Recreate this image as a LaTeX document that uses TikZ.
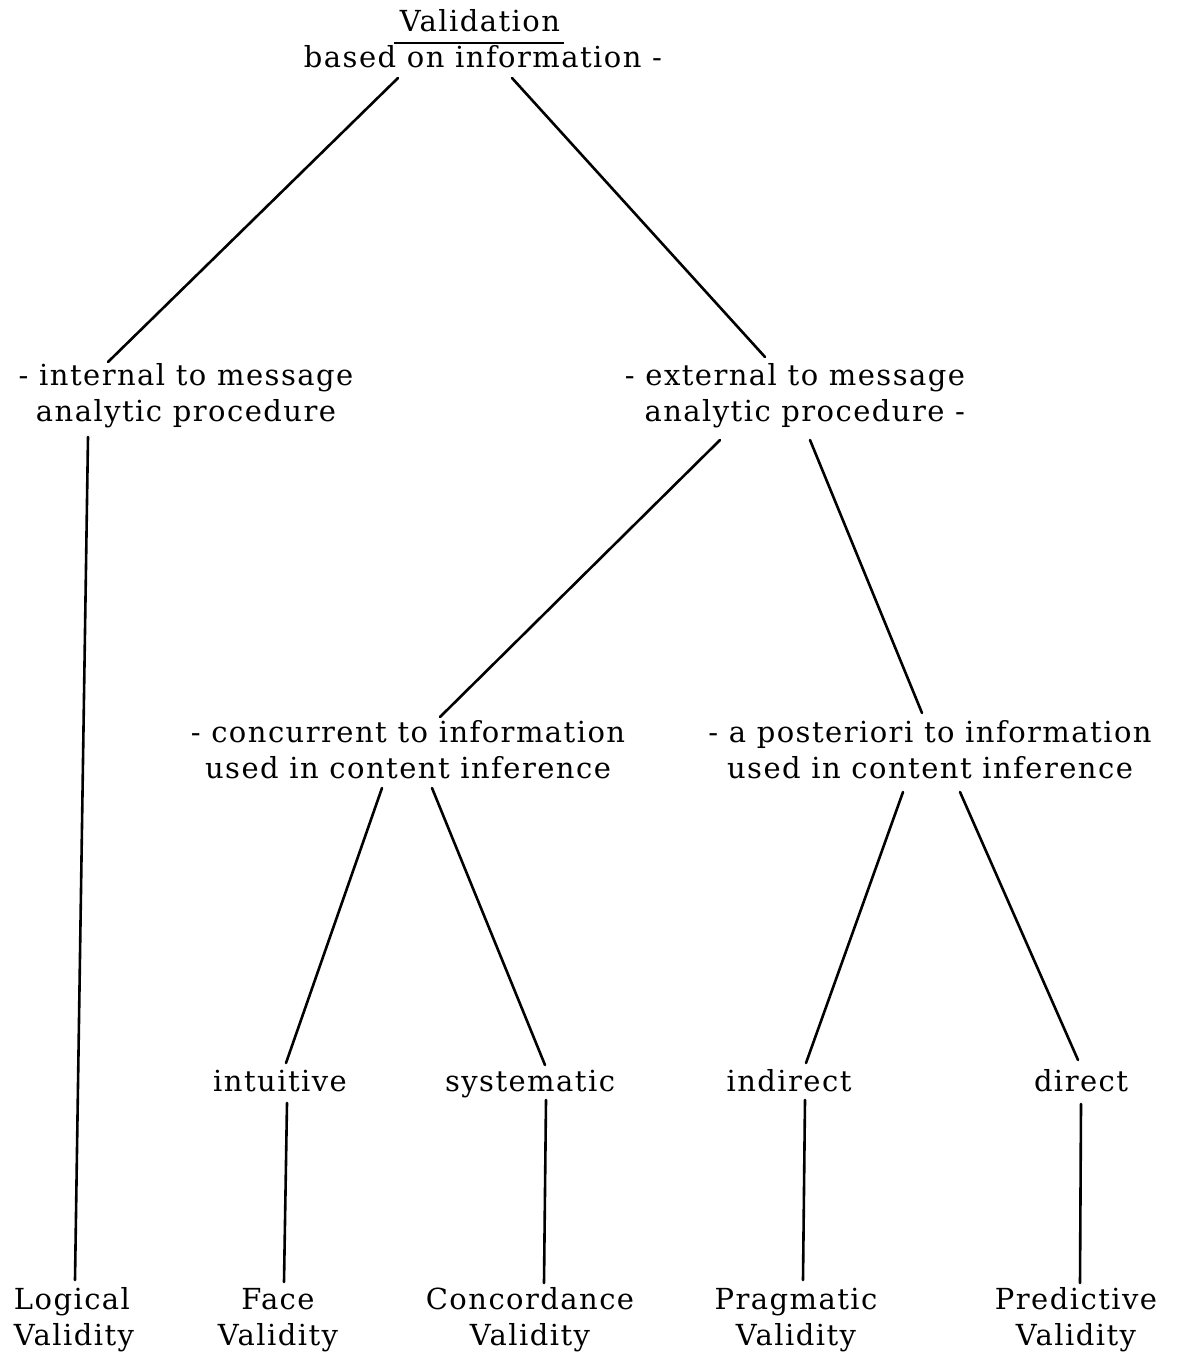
\documentclass[tikz,border=0pt]{standalone}
\usepackage{fontspec}
\setmainfont[LetterSpace=5]{DejaVu Serif}
\usetikzlibrary{calc}
\begin{document}
\begin{tikzpicture}[x=1pt,y=-1pt,
  lbl/.style={inner sep=0pt,align=center,font=\fontsize{29}{36}\selectfont},
  word/.style={lbl,text height=24pt,text depth=4pt},
  edge/.style={line width=2.6pt,line cap=round}]
\useasboundingbox (0,0) rectangle (1176,1356);
\fill[white] (0,0) rectangle (1176,1356);

% root
\node[word] (title) at (480,22) {Validation};
\node[word] (sub) at (483,58) {based on information -};
\draw[line width=2.2pt] ($(title.base west)+(-6,11)$) -- ($(title.base east)+(4,11)$);

% second level
\node[lbl] (int) at (186,396) {- internal to message\\analytic procedure};
\node[lbl,align=right] (ext) at (795,396) {- external to message\\analytic procedure -};

% third level
\node[lbl] (conc) at (408,750) {- concurrent to information\\used in content inference};
\node[lbl] (post) at (930,750) {- a posteriori to information\\used in content inference};

% fourth level
\node[word] (intu) at (280,1081) {intuitive};
\node[word] (syst) at (530,1081) {systematic};
\node[word] (indi) at (789,1081) {indirect};
\node[word] (dire) at (1081,1081) {direct};

% leaves
\node[lbl,align=left] (logi) at (74,1320) {Logical\\Validity};
\node[lbl] (face) at (278,1320) {Face\\Validity};
\node[lbl] (conv) at (530,1320) {Concordance\\Validity};
\node[lbl] (prag) at (796,1320) {Pragmatic\\Validity};
\node[lbl] (pred) at (1076,1320) {Predictive\\Validity};

% connectors
\draw[edge] ($(sub.center)+(-85,20)$) -- ($(int.center)+(-78,-34)$);
\draw[edge] ($(sub.center)+(29,20)$) -- ($(ext.center)+(-30,-39)$);
\draw[edge] ($(int.center)+(-98,41)$) -- ($(logi.center)+(1,-40)$);
\draw[edge] ($(ext.center)+(-75,44)$) -- ($(conc.center)+(32,-33)$);
\draw[edge] ($(ext.center)+(15,44)$) -- ($(post.center)+(-8,-37)$);
\draw[edge] ($(conc.center)+(-26,38)$) -- ($(intu.center)+(6,-18)$);
\draw[edge] ($(conc.center)+(24,38)$) -- ($(syst.center)+(15,-16)$);
\draw[edge] ($(post.center)+(-27,42)$) -- ($(indi.center)+(17,-18)$);
\draw[edge] ($(post.center)+(30,42)$) -- ($(dire.center)+(-3,-21)$);
\draw[edge] ($(intu.center)+(7,22)$) -- ($(face.center)+(6,-38)$);
\draw[edge] ($(syst.center)+(16,19)$) -- ($(conv.center)+(14,-37)$);
\draw[edge] ($(indi.center)+(16,19)$) -- ($(prag.center)+(7,-40)$);
\draw[edge] ($(dire.center)+(0,23)$) -- ($(pred.center)+(4,-37)$);
\end{tikzpicture}
\end{document}
